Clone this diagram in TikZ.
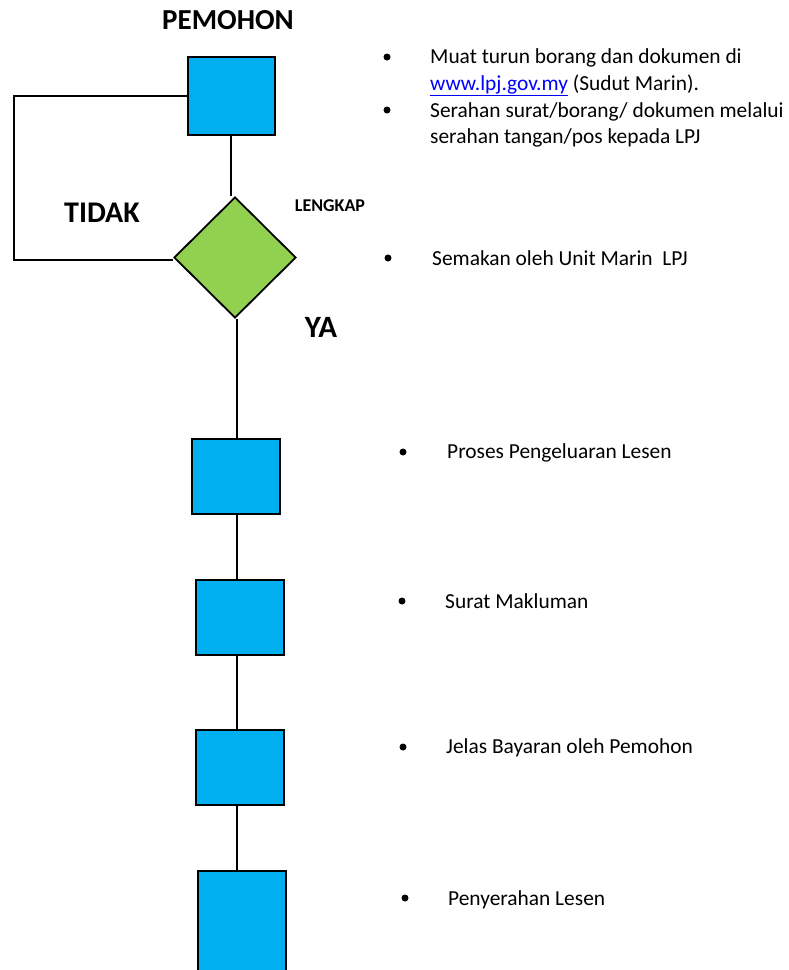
\documentclass[tikz,border=0pt]{standalone}
\usepackage{fontspec}
\setmainfont{Carlito}
\usetikzlibrary{shapes.geometric}
\definecolor{boxblue}{RGB}{0,176,240}
\definecolor{dgreen}{RGB}{146,208,80}
\definecolor{linkblue}{RGB}{0,0,255}
\begin{document}
\begin{tikzpicture}[x=1pt,y=-1pt,
  stepbox/.style={draw=black,line width=2pt,fill=boxblue,minimum width=88pt,minimum height=75pt,inner sep=0pt},
  conn/.style={draw=black,line width=1.8pt},
  txt/.style={anchor=base west,inner sep=0pt,font=\fontsize{21.4}{27}\selectfont},
  bigl/.style={inner sep=0pt,font=\fontsize{30}{32}\selectfont\bfseries},
  dot/.style={circle,fill=black,inner sep=0pt,minimum size=7pt}]
\useasboundingbox (0,0) rectangle (789,970);
\fill[white] (0,0) rectangle (789,970);
% nodes
\node[bigl,font=\fontsize{29}{32}\selectfont\bfseries] (pem) at (228,20) {PEMOHON};
\node[stepbox,minimum width=87pt,minimum height=78pt] (b1) at (231,96) {};
\node[diamond,draw=black,line width=1.8pt,fill=dgreen,inner sep=0pt,minimum width=122pt,minimum height=121pt] (d) at (235,257.5) {};
\node[bigl] (tidak) at (102,213) {TIDAK};
\node[inner sep=0pt,font=\fontsize{18}{20}\selectfont\bfseries] (lengkap) at (330,206) {LENGKAP};
\node[bigl,font=\fontsize{31}{32}\selectfont\bfseries] (ya) at (321,327) {YA};
\node[stepbox] (b2) at (236,476) {};
\node[stepbox] (b3) at (240,617.5) {};
\node[stepbox] (b4) at (239.5,767) {};
\node[stepbox,minimum height=110pt] (b5) at (241.5,926) {};
\coordinate (lp1) at (14,97);
\coordinate (lp2) at (14,260);
% connectors
\draw[conn] (b1.south) -- (b1.south |- d.north);
\draw[conn] (b1.west) -- (b1.west -| lp1) -- (lp2) -- (lp2 -| d.west);
\draw[conn] (d.south -| 237,0) -- (b2.north -| 237,0);
\draw[conn] (b2.south -| 237,0) -- (b3.north -| 237,0);
\draw[conn] (b3.south -| 237,0) -- (b4.north -| 237,0);
\draw[conn] (b4.south -| 237,0) -- (b5.north -| 237,0);
% right texts
\node[dot] (bu1) at (387,57) {};
\node[txt] (t1a) at (430,63) {Muat turun borang dan dokumen di};
\node[txt] (t1b) at (430,90) {\textcolor{linkblue}{\underline{www.lpj.gov.my}} (Sudut Marin).};
\node[dot] (bu2) at (387,110) {};
\node[txt] (t2a) at (430,117) {Serahan surat/borang/ dokumen melalui};
\node[txt] (t2b) at (430,143) {serahan tangan/pos kepada LPJ};
\node[dot] (bu3) at (388,258) {};
\node[txt] (t3) at (432,265) {Semakan oleh Unit Marin\ \ LPJ};
\node[dot] (bu4) at (403,452) {};
\node[txt] (t4) at (447,458) {Proses Pengeluaran Lesen};
\node[dot] (bu5) at (402,601) {};
\node[txt] (t5) at (445,608) {Surat Makluman};
\node[dot] (bu6) at (403,747) {};
\node[txt] (t6) at (446,753) {Jelas Bayaran oleh Pemohon};
\node[dot] (bu7) at (405,898) {};
\node[txt] (t7) at (448,905) {Penyerahan Lesen};
\end{tikzpicture}
\end{document}
